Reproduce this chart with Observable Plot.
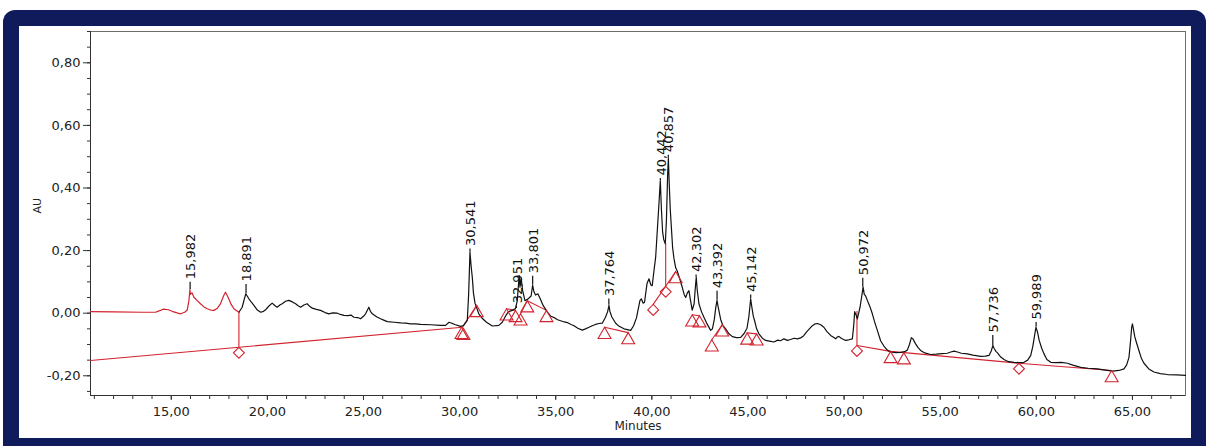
<!DOCTYPE html>
<html>
<head>
<meta charset="utf-8">
<script src="https://cdn.jsdelivr.net/npm/d3@7"></script>
<script src="https://cdn.jsdelivr.net/npm/@observablehq/plot@0.6"></script>
<style>
  html, body { margin: 0; padding: 0; background: #fff; width: 1206px; height: 446px; overflow: hidden; }
  #outer { position: absolute; left: 3px; top: 10px; width: 1203px; height: 450px; background: #101b5b; border-radius: 12px; }
  #inner { position: absolute; left: 16px; top: 16px; width: 1172px; height: 412px; background: #fff; }
  #inner svg { display: block; }
</style>
</head>
<body>
<div id="outer"><div id="inner"></div></div>
<script>
// ---- data ----
const xDomain = [10.8, 67.76];
const yDomain = [-0.263, 0.90];
const xTicks = [15, 20, 25, 30, 35, 40, 45, 50, 55, 60, 65];
const yTicks = [-0.2, 0, 0.2, 0.4, 0.6, 0.8];
const xMinorTicks = d3.range(11, 68, 1);
const yMinorTicks = d3.range(-0.25, 0.91, 0.05).map(v => +v.toFixed(2));

const traceTime = [
 10.80,12.00,13.50,14.18,14.40,14.60,14.85,15.05,15.30,15.48,15.70,15.83,15.92,15.97,16.00,16.08,16.18,16.35,16.52,16.70,
 16.87,17.05,17.22,17.40,17.56,17.72,17.82,17.90,17.99,18.12,18.26,18.40,18.52,18.69,18.80,18.88,18.95,19.04,19.17,19.30,
 19.48,19.65,19.80,19.91,20.10,20.25,20.40,20.51,20.65,20.77,20.95,21.12,21.30,21.47,21.60,21.73,21.90,22.07,22.20,22.34,
 22.55,22.77,23.00,23.20,23.40,23.64,23.80,23.98,24.20,24.35,24.50,24.70,24.85,25.00,25.11,25.22,25.28,25.36,25.46,25.70,
 25.89,26.05,26.24,26.60,26.93,27.20,27.45,27.70,27.97,28.50,29.00,29.27,29.45,29.60,29.75,30.05,30.20,30.40,30.47,30.54,
 30.60,30.66,30.72,30.80,31.00,31.20,31.40,31.70,32.04,32.22,32.40,32.55,32.74,32.91,33.00,33.06,33.10,33.14,33.20,33.28,
 33.40,33.55,33.72,33.80,33.86,33.95,34.07,34.20,34.35,34.56,34.75,34.95,35.10,35.25,35.45,35.60,35.80,35.95,36.15,36.38,
 36.55,36.73,36.90,37.07,37.25,37.42,37.59,37.70,37.77,37.82,37.92,38.12,38.30,38.55,38.90,39.05,39.20,39.38,39.45,39.55,
 39.62,39.75,39.85,39.95,40.02,40.10,40.20,40.30,40.38,40.44,40.50,40.56,40.62,40.70,40.76,40.82,40.86,40.90,40.96,41.01,
 41.08,41.15,41.24,41.32,41.45,41.58,41.68,41.76,41.85,41.93,42.00,42.10,42.20,42.26,42.31,42.36,42.45,42.58,42.71,42.88,
 43.06,43.15,43.25,43.33,43.39,43.45,43.58,43.70,43.84,44.00,44.19,44.40,44.62,44.80,44.95,45.05,45.14,45.20,45.28,45.35,
 45.45,45.57,45.75,45.92,46.18,46.35,46.55,46.70,46.87,47.05,47.22,47.40,47.57,47.74,47.90,48.05,48.17,48.35,48.50,48.61,
 48.78,48.95,49.10,49.30,49.47,49.56,49.65,49.73,49.85,50.08,50.25,50.43,50.50,50.55,50.62,50.69,50.76,50.83,50.92,50.99,
 51.05,51.12,51.21,51.35,51.47,51.60,51.73,51.90,52.07,52.25,52.42,52.70,52.94,53.15,53.29,53.40,53.50,53.58,53.72,53.85,
 53.98,54.20,54.50,54.80,55.10,55.37,55.55,55.72,55.90,56.10,56.41,56.70,57.11,57.35,57.54,57.66,57.74,57.80,57.90,57.98,
 58.15,58.32,58.55,58.84,59.10,59.36,59.55,59.71,59.82,59.90,59.98,60.06,60.15,60.28,60.40,60.55,60.75,61.00,61.30,61.62,
 61.90,62.31,62.70,63.18,63.60,63.96,64.30,64.56,64.70,64.82,64.90,64.96,65.00,65.05,65.12,65.20,65.34,65.47,65.60,65.85,
 66.12,66.45,66.82,67.30,67.76
];
const traceAU = [
 0.005,0.004,0.003,0.003,0.008,0.013,0.011,0.006,0.001,-0.002,0.003,0.010,0.040,0.075,0.060,0.065,0.051,0.040,0.030,0.020,
 0.014,0.010,0.009,0.016,0.030,0.055,0.067,0.058,0.046,0.028,0.014,0.008,0.003,0.019,0.045,0.062,0.055,0.046,0.035,0.025,
 0.010,0.003,0.006,0.011,0.024,0.032,0.024,0.019,0.026,0.030,0.038,0.041,0.036,0.030,0.024,0.019,0.026,0.030,0.022,0.016,
 0.012,0.009,0.002,-0.002,0.001,0.000,-0.004,-0.007,-0.008,-0.006,-0.013,-0.014,-0.018,-0.010,-0.002,0.012,0.019,0.006,-0.002,-0.012,
 -0.018,-0.022,-0.027,-0.029,-0.031,-0.032,-0.034,-0.034,-0.036,-0.037,-0.039,-0.039,-0.029,-0.032,-0.036,-0.042,-0.040,-0.023,0.060,0.195,
 0.150,0.115,0.065,0.032,-0.002,-0.018,-0.029,-0.041,-0.039,-0.029,-0.008,0.005,0.009,0.015,0.040,0.090,0.120,0.083,0.112,0.072,
 0.040,0.045,0.055,0.090,0.070,0.058,0.062,0.045,0.024,0.004,-0.010,-0.015,-0.021,-0.024,-0.028,-0.030,-0.036,-0.040,-0.048,-0.054,
 -0.050,-0.045,-0.040,-0.036,-0.033,-0.032,-0.013,0.005,0.025,0.005,-0.012,-0.032,-0.042,-0.050,-0.055,-0.040,-0.015,0.040,0.046,0.032,
 0.035,0.095,0.110,0.090,0.088,0.130,0.180,0.280,0.360,0.424,0.330,0.260,0.235,0.222,0.300,0.440,0.495,0.420,0.330,0.280,
 0.210,0.175,0.145,0.135,0.110,0.083,0.060,0.050,0.065,0.072,0.045,0.010,0.030,0.080,0.115,0.075,0.030,0.005,-0.013,-0.035,
 -0.055,-0.050,-0.020,0.020,0.041,0.020,-0.020,-0.040,-0.050,-0.065,-0.075,-0.078,-0.077,-0.065,-0.048,-0.010,0.046,0.020,-0.010,-0.025,
 -0.050,-0.066,-0.080,-0.087,-0.090,-0.092,-0.086,-0.088,-0.082,-0.087,-0.084,-0.080,-0.082,-0.079,-0.072,-0.060,-0.052,-0.040,-0.034,-0.033,
 -0.037,-0.045,-0.058,-0.071,-0.078,-0.082,-0.076,-0.074,-0.080,-0.087,-0.085,-0.082,-0.040,0.005,-0.005,-0.018,0.000,0.019,0.055,0.083,
 0.060,0.055,0.041,0.020,-0.002,-0.030,-0.055,-0.088,-0.105,-0.118,-0.124,-0.126,-0.125,-0.123,-0.118,-0.100,-0.078,-0.082,-0.098,-0.110,
 -0.119,-0.127,-0.132,-0.131,-0.129,-0.128,-0.124,-0.121,-0.124,-0.128,-0.130,-0.134,-0.138,-0.137,-0.135,-0.120,-0.103,-0.112,-0.122,-0.127,
 -0.140,-0.148,-0.155,-0.157,-0.158,-0.157,-0.150,-0.135,-0.105,-0.075,-0.045,-0.060,-0.087,-0.112,-0.130,-0.148,-0.157,-0.158,-0.157,-0.160,
 -0.166,-0.173,-0.176,-0.178,-0.182,-0.185,-0.183,-0.178,-0.165,-0.141,-0.090,-0.045,-0.034,-0.050,-0.075,-0.092,-0.120,-0.145,-0.160,-0.178,
 -0.188,-0.193,-0.196,-0.197,-0.199
];

// labelled peaks: retention time, apex height, height where the label starts
const peakTimes = [15.982, 18.891, 30.541, 32.951, 33.801, 37.764, 40.442, 40.857, 42.302, 43.392, 45.142, 50.972, 57.736, 59.989];
const peakApex  = [0.075, 0.062, 0.195, 0.015, 0.090, 0.025, 0.424, 0.495, 0.115, 0.041, 0.046, 0.083, -0.103, -0.045];
const peakTop   = [0.099, 0.092, 0.205, 0.022, 0.118, 0.045, 0.430, 0.505, 0.122, 0.070, 0.058, 0.112, -0.071, -0.030];

// integration baselines (segment id, time, AU)
const baseSeg = [1,1, 2,2, 3,3, 4,4,4, 5,5, 6,6,6, 7,7, 8,8, 9,9, 10,10,10,10];
const baseT   = [10.80,30.14, 30.14,30.89, 32.44,32.91, 33.17,33.52,34.52, 37.54,38.77, 40.07,40.72,41.24, 42.10,42.48, 43.12,43.66, 44.96,45.45, 50.67,52.42,59.10,63.92];
const baseV   = [-0.151,-0.045, -0.045,0.025, 0.014,0.009, -0.002,0.040,0.009, -0.045,-0.062, 0.028,0.086,0.133, -0.005,-0.008, -0.085,-0.037, -0.063,-0.066, -0.103,-0.122,-0.160,-0.183];

// baseline markers
const triT = [30.10,30.20,30.89,32.44,32.91,33.17,33.52,34.52,37.54,38.77,41.24,42.10,42.48,43.12,43.66,44.96,45.45,52.42,53.11,63.92];
const triV = [-0.045,-0.048,0.025,0.014,0.009,-0.002,0.040,0.009,-0.045,-0.062,0.133,-0.005,-0.008,-0.085,-0.037,-0.063,-0.066,-0.122,-0.126,-0.183];
const diaT = [18.52, 40.07, 40.72, 50.67, 59.10];
const diaV = [-0.109, 0.028, 0.086, -0.103, -0.160];

// drop lines (time, baseline AU, signal AU)
const dropT  = [18.52, 40.72, 50.67];
const dropV1 = [-0.109, 0.086, -0.103];
const dropV2 = [0.003, 0.222, 0.005];

// ---- build tables ----
const trace = traceTime.map((t, i) => ({t, v: traceAU[i]}));
const redTrace = trace.filter(d => d.t <= dropT[0]);
const blackTrace = trace.filter(d => d.t >= dropT[0]);
const peaks = peakTimes.map((t, i) => ({t, apex: peakApex[i], top: peakTop[i], label: t.toFixed(3).replace(".", ",")}));
const baselines = baseT.map((t, i) => ({t, v: baseV[i], seg: baseSeg[i]}));
const tris = triT.map((t, i) => ({t, v: triV[i]}));
const dias = diaT.map((t, i) => ({t, v: diaV[i]}));
const drops = dropT.map((t, i) => ({t, v1: dropV1[i], v2: dropV2[i]}));

const fmt = d => (d < -1e-9 ? "-" : "") + Math.abs(d).toFixed(2).replace(".", ",");
const RED = "#d2232e";

const chart = Plot.plot({
  width: 1172,
  height: 412,
  marginLeft: 71,
  marginTop: 5,
  marginRight: 6,
  marginBottom: 43,
  x: {domain: xDomain, label: null},
  y: {domain: yDomain, label: null},
  style: {fontFamily: "DejaVu Sans", fontSize: "13px", color: "#222", background: "white", overflow: "visible"},
  marks: [
    Plot.frame({stroke: "#6e6e6e"}),
    Plot.axisX({ticks: xMinorTicks, tickSize: 4, tickFormat: () => "", label: null, stroke: "#333"}),
    Plot.axisX({ticks: xTicks, tickSize: 5, tickPadding: 6, tickFormat: fmt, label: null, stroke: "#333"}),
    Plot.axisY({ticks: yMinorTicks, tickSize: 3, tickFormat: () => "", label: null, stroke: "#333"}),
    Plot.axisY({ticks: yTicks, tickSize: 7, tickPadding: 3, tickFormat: fmt, label: null, stroke: "#333"}),
    Plot.ruleX([xDomain[0]], {stroke: "#333"}),
    Plot.ruleY([yDomain[0]], {stroke: "#333"}),
    Plot.line(baselines, {x: "t", y: "v", z: "seg", stroke: RED, strokeWidth: 1.1}),
    Plot.ruleX(drops, {x: "t", y1: "v1", y2: "v2", stroke: RED, strokeWidth: 1.1}),
    Plot.line(blackTrace, {x: "t", y: "v", stroke: "#111", strokeWidth: 1.2}),
    Plot.line(redTrace, {x: "t", y: "v", stroke: RED, strokeWidth: 1.2}),
    Plot.ruleX(peaks, {x: "t", y1: "apex", y2: "top", stroke: "#111", strokeWidth: 1.2}),
    Plot.dot(tris, {x: "t", y: "v", symbol: "triangle", r: 4.8, dy: 7.5, stroke: RED, fill: "none", strokeWidth: 1.1}),
    Plot.dot(dias, {x: "t", y: "v", symbol: "diamond2", r: 4.9, dy: 5.5, stroke: RED, fill: "none", strokeWidth: 1.1}),
    Plot.text(peaks, {x: "t", y: "top", text: "label", rotate: -90, textAnchor: "start", dy: -3, dx: 1, fill: "#111", fontSize: 13}),
    Plot.text(["AU"], {text: d => d, frameAnchor: "left", dx: -53, rotate: -90, fontSize: 11, fill: "#222"}),
    Plot.text(["Minutes"], {text: d => d, frameAnchor: "bottom", dy: 34, fontSize: 12, fill: "#222"})
  ]
});
document.getElementById("inner").appendChild(chart);
</script>
</body>
</html>
